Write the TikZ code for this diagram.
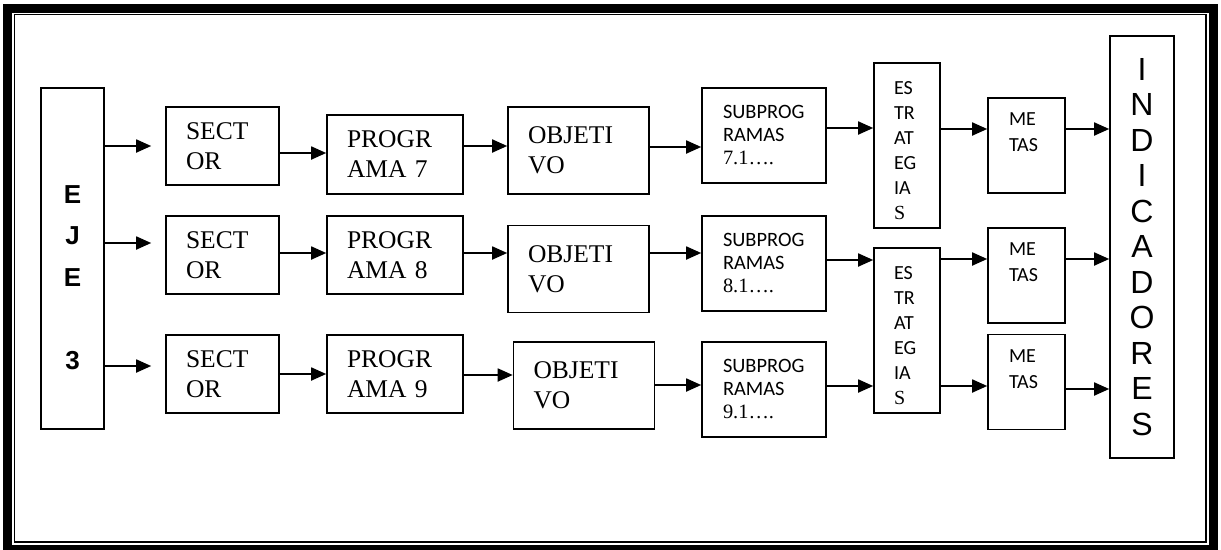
\documentclass[tikz,border=0pt]{standalone}
\usepackage{fontspec}
\setmainfont{Liberation Serif}
\newfontfamily\calibri{Carlito}
\newfontfamily\arial{Liberation Sans}
\usetikzlibrary{arrows.meta}
\hyphenpenalty=10000

\begin{document}
\begin{tikzpicture}[
	x=1pt, y=-1pt,
	caja/.style={draw, line width=1.6pt, align=left, inner ysep=0pt},
	sector/.style={caja, text width=73pt, inner xsep=20pt, minimum height=78pt,
		font=\fontsize{25.5}{30}\selectfont},
	programa/.style={caja, text width=96pt, inner xsep=20pt, minimum height=78pt,
		font=\fontsize{25.5}{30}\selectfont},
	objetivo/.style={caja, text width=101pt, inner xsep=20pt, minimum height=87pt,
		font=\fontsize{25.5}{30}\selectfont},
	subprog/.style={caja, text width=82pt, inner xsep=21pt, minimum height=95pt,
		font=\calibri\fontsize{20.4}{23}\selectfont},
	estrat/.style={caja, text width=26pt, inner xsep=20pt, minimum height=165pt,
		font=\calibri\fontsize{20}{25}\selectfont},
	metas/.style={caja, text width=35pt, inner xsep=21pt, minimum height=95pt,
		font=\calibri\fontsize{20}{26}\selectfont},
	flecha/.style={line width=1.8pt, -{Triangle[length=15pt,width=13pt]}}
	]
	\useasboundingbox (0,0) rectangle (1221,549);
	\draw[line width=9pt] (7.5,8) rectangle (1213,549);
	\draw[line width=1.5pt] (14.5,14.5) rectangle (1206,542);
	
	\node[caja, align=center, minimum width=63pt, minimum height=341pt,
		font=\arial\bfseries\fontsize{26}{41.5}\selectfont] (eje) at (72.5,258.5) {\rule{0pt}{14pt}\\E\\J\\E\\\mbox{}\\3};
	
	\node[sector] (s1) at (222.5,146) {SECT\\OR};
	\node[sector] (s2) at (222.5,255) {SECT\\OR};
	\node[sector] (s3) at (222.5,374) {SECT\\OR};
	
	\node[programa, minimum height=79pt] (p1) at (395,154.5) {PROGR\\AMA 7};
	\node[programa] (p2) at (395,255) {PROGR\\AMA 8};
	\node[programa] (p3) at (395,374) {PROGR\\AMA 9};
	
	\node[objetivo] (o1) at (578.5,150.5) {OBJETI\\VO};
	\node[objetivo] (o2) at (578.5,269) {OBJETI\\VO};
	\node[objetivo] (o3) at (584,385.5) {OBJETI\\VO};
	
	\node[subprog] (sub1) at (764,135.5) {SUBPROG\\RAMAS\\{\rmfamily 7.1….}};
	\node[subprog] (sub2) at (764,263.5) {SUBPROG\\RAMAS\\{\rmfamily 8.1….}};
	\node[subprog] (sub3) at (764,389.5) {SUBPROG\\RAMAS\\{\rmfamily 9.1….}};
	
	\node[estrat] (e1) at (907,145.5) {\rule{0pt}{23pt}ES\\TR\\AT\\EG\\IA\\{\rmfamily S}};
	\node[estrat] (e2) at (907,330.5) {\rule{0pt}{23pt}ES\\TR\\AT\\EG\\IA\\{\rmfamily S}};
	
	\node[metas] (m1) at (1026.5,145.5) {ME\\TAS\\\mbox{}};
	\node[metas] (m2) at (1026.5,275.5) {ME\\TAS\\\mbox{}};
	\node[metas] (m3) at (1026.5,382) {ME\\TAS\\\mbox{}};
	
	\node[caja, align=center, minimum width=64pt, minimum height=422pt,
		font=\arial\fontsize{32}{35.5}\selectfont] (ind) at (1142,247) {I\\N\\D\\I\\C\\A\\D\\O\\R\\E\\S};
	
	\draw[flecha, shorten >=14pt] (eje.east |- 0,146) -- (s1.west |- 0,146);
	\draw[flecha, shorten >=14pt] (eje.east |- 0,243) -- (s2.west |- 0,243);
	\draw[flecha, shorten >=14pt] (eje.east |- 0,366) -- (s3.west |- 0,366);
	
	\draw[flecha] (s1.east |- 0,153) -- (p1.west |- 0,153);
	\draw[flecha] (s2.east |- 0,253) -- (p2.west |- 0,253);
	\draw[flecha] (s3.east |- 0,374) -- (p3.west |- 0,374);
	
	\draw[flecha] (p1.east |- 0,146) -- (o1.west |- 0,146);
	\draw[flecha] (p2.east |- 0,253) -- (o2.west |- 0,253);
	\draw[flecha] (p3.east |- 0,375) -- (o3.west |- 0,375);
	
	\draw[flecha] (o1.east |- 0,147) -- (sub1.west |- 0,147);
	\draw[flecha] (o2.east |- 0,253) -- (sub2.west |- 0,253);
	\draw[flecha] (o3.east |- 0,385) -- (sub3.west |- 0,385);
	
	\draw[flecha] (sub1.east |- 0,128) -- (e1.west |- 0,128);
	\draw[flecha] (sub2.east |- 0,260) -- (e2.west |- 0,260);
	\draw[flecha] (sub3.east |- 0,386) -- (e2.west |- 0,386);
	
	\draw[flecha] (e1.east |- 0,129) -- (m1.west |- 0,129);
	\draw[flecha] (e2.east |- 0,259) -- (m2.west |- 0,259);
	\draw[flecha] (e2.east |- 0,386) -- (m3.west |- 0,386);
	
	\draw[flecha] (m1.east |- 0,129) -- (ind.west |- 0,129);
	\draw[flecha] (m2.east |- 0,259) -- (ind.west |- 0,259);
	\draw[flecha] (m3.east |- 0,389) -- (ind.west |- 0,389);
\end{tikzpicture}
\end{document}
